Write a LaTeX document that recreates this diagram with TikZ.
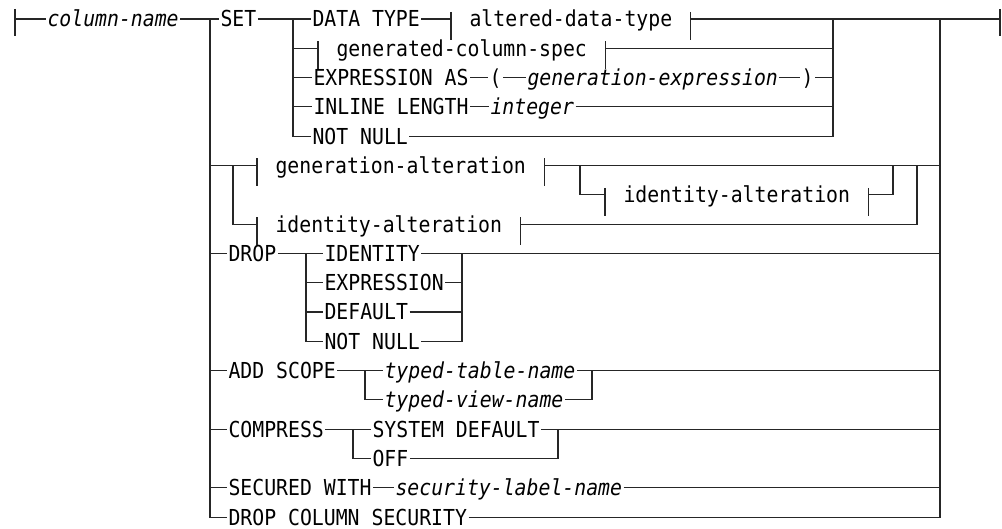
\documentclass[tikz,border=0pt]{standalone}
\usepackage{fontspec}
\setmainfont{DejaVu Sans Mono}[FakeStretch=0.9]
\usepackage{tikz}

\begin{document}
\begin{tikzpicture}[
  x=1pt, y=-29.3pt, line width=1.1pt, draw=black!85,
  kw/.style={anchor=west, inner xsep=1pt, inner ysep=0pt, text height=16pt, text depth=0pt, font=\fontsize{22}{24}\selectfont},
  var/.style={kw, font=\fontsize{22}{24}\selectfont\itshape},
  frag/.style={kw, inner xsep=18pt}]
\useasboundingbox (0,-0.648) rectangle (1002,17.406);

% rails
\coordinate (sb) at (15,0);
\coordinate (eb) at (1000,0);
\coordinate (L)  at (210,0);
\coordinate (R)  at (940,0);
\coordinate (SL) at (293,0);
\coordinate (SR) at (833,0);
\coordinate (GL) at (233,5);
\coordinate (GR) at (917,5);
\coordinate (OL) at (580,5);
\coordinate (OR) at (893,5);
\coordinate (DL) at (306,8);
\coordinate (DR) at (462,8);
\coordinate (AL) at (365,12);
\coordinate (AR) at (592,12);
\coordinate (CL) at (353,14);
\coordinate (CR) at (558,14);

\node[var]  (cn)    at (46,0)   {column-name};
\node[kw]   (set)   at (219,0)  {SET};
\node[kw]   (dt)    at (311,0)  {DATA TYPE};
\node[frag] (adt)   at (451,0)  {altered-data-type};
\node[frag] (gcs)   at (318,1)  {generated-column-spec};
\node[kw]   (expas) at (312,2)  {EXPRESSION AS};
\node[kw]   (lp)    at (488,2)  {(};
\node[var]  (genx)  at (526,2)  {generation-expression};
\node[kw]   (rp)    at (800,2)  {)};
\node[kw]   (inl)   at (312,3)  {INLINE LENGTH};
\node[var]  (intg)  at (489,3)  {integer};
\node[kw]   (np1)   at (311,4)  {NOT NULL};

\node[frag] (ga)    at (257,5)  {generation-alteration};
\node[frag] (ia1)   at (605,6)  {identity-alteration};
\node[frag] (ia2)   at (257,7)  {identity-alteration};

\node[kw]   (drop)  at (227,8)  {DROP};
\node[kw]   (idt)   at (323,8)  {IDENTITY};
\node[kw]   (dexp)  at (323,9)  {EXPRESSION};
\node[kw]   (ddef)  at (323,10) {DEFAULT};
\node[kw]   (dnn)   at (323,11) {NOT NULL};

\node[kw]   (scope) at (227,12) {ADD SCOPE};
\node[var]  (ttn)   at (383,12) {typed-table-name};
\node[var]  (tvn)   at (383,13) {typed-view-name};
\node[kw]   (cmp)   at (227,14) {COMPRESS};
\node[kw]   (sysd)  at (371,14) {SYSTEM DEFAULT};
\node[kw]   (off)   at (371,15) {OFF};
\node[kw]   (sec)   at (227,16) {SECURED WITH};
\node[var]  (sln)   at (394,16) {security-label-name};
\node[kw]   (dcs)   at (227,17) {DROP COLUMN SECURITY};

% main line
\draw (sb) -- (cn) -- (set) -- (dt) -- (adt) -- (eb);
\draw (sb) ++(0pt,10pt) -- ++(0pt,-27pt) (eb) ++(0pt,10pt) -- ++(0pt,-27pt);
\foreach \n in {adt,gcs,ga,ia1,ia2}
  \draw (\n.west) ++(0pt,7pt) -- ++(0pt,-28pt) (\n.east) ++(0pt,7pt) -- ++(0pt,-28pt);
\draw (L) |- (dcs) -| (R);

% SET
\draw (SL) |- (np1) -| (SR);
\draw (SL |- gcs) -- (gcs) -- (SR |- gcs);
\draw (SL |- expas) -- (expas) -- (lp) -- (genx) -- (rp) -- (SR |- rp);
\draw (SL |- inl) -- (inl) -- (intg) -- (SR |- intg);

% generation / identity
\draw (L |- ga) -- (ga) -- (R |- ga);
\draw (OL) |- (ia1) -| (OR);
\draw (GL) |- (ia2) -| (GR);

% DROP
\draw (L |- drop) -- (drop) -- (idt) -- (R |- idt);
\draw (DL) |- (dnn) -| (DR);
\draw (DL |- dexp) -- (dexp) -- (DR |- dexp);
\draw (DL |- ddef) -- (ddef) -- (DR |- ddef);

% ADD SCOPE, COMPRESS, SECURED WITH
\draw (L |- scope) -- (scope) -- (ttn) -- (R |- ttn);
\draw (AL) |- (tvn) -| (AR);
\draw (L |- cmp) -- (cmp) -- (sysd) -- (R |- sysd);
\draw (CL) |- (off) -| (CR);
\draw (L |- sec) -- (sec) -- (sln) -- (R |- sln);
\end{tikzpicture}
\end{document}
